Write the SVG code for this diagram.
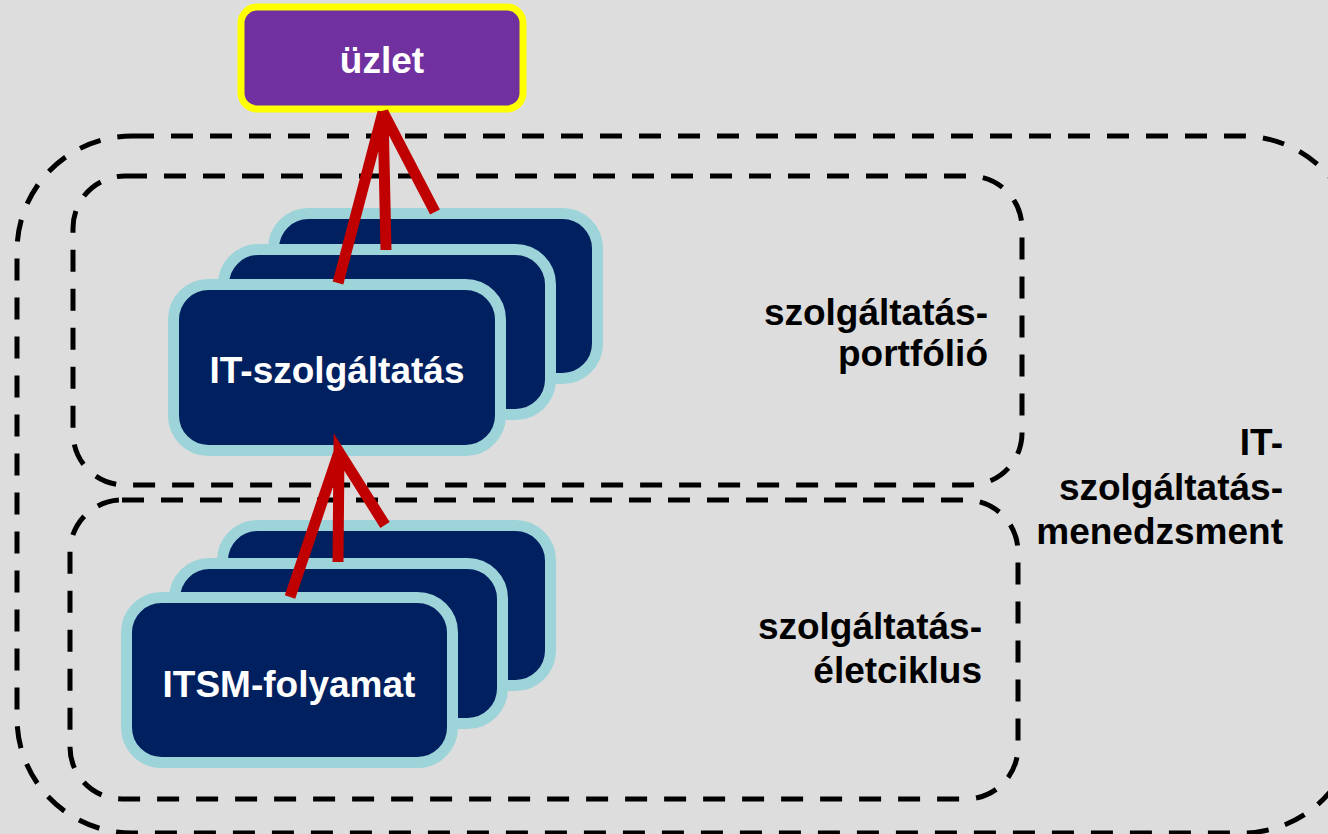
<svg xmlns="http://www.w3.org/2000/svg" width="1328" height="834" viewBox="0 0 1328 834">
<style>
.bg{fill:#DDDDDD}
.dash{fill:none;stroke:#000;stroke-width:5;stroke-dasharray:22 17}
.card{fill:#002060;stroke:#9DD4D9;stroke-width:11}
.ct{font-family:"Liberation Sans",Arial,sans-serif;font-weight:bold;fill:#fff;text-anchor:middle;font-size:37px}
.lbl{font-family:"Liberation Sans",Arial,sans-serif;font-weight:bold;font-size:37px;fill:#000;text-anchor:end}
.arr{stroke:#C00000;stroke-width:11;fill:none}
</style>
<rect class="bg" x="0" y="0" width="1328" height="834"/>
<g id="it-szolgaltatas-menedzsment">
<rect class="dash" x="17" y="136" width="1340" height="697" rx="115"/>
<text class="lbl" x="1283" y="455">IT-</text>
<text class="lbl" x="1283" y="500">szolgáltatás-</text>
<text class="lbl" x="1283" y="544">menedzsment</text>
</g>
<g id="szolgaltatas-portfolio">
<rect class="dash" x="73" y="176" width="949" height="309" rx="52"/>
<text class="lbl" x="988" y="325">szolgáltatás-</text>
<text class="lbl" x="988" y="366">portfólió</text>
</g>
<g id="szolgaltatas-eletciklus">
<rect class="dash" x="70" y="500" width="948" height="299" rx="52"/>
<text class="lbl" x="982" y="639">szolgáltatás-</text>
<text class="lbl" x="982" y="683">életciklus</text>
</g>
<g id="uzlet">
<rect x="241" y="7" width="282" height="102" rx="16" fill="#7030A0" stroke="#FFFF00" stroke-width="7"/>
<text class="ct" x="382" y="73">üzlet</text>
</g>
<g id="it-szolgaltatas">
<rect class="card" x="273.5" y="213.5" width="324" height="165" rx="35"/>
<rect class="card" x="223.5" y="249.5" width="327" height="165" rx="35"/>
<rect class="card" x="173.5" y="284.5" width="327" height="166" rx="35"/>
<text class="ct" x="337" y="383">IT-szolgáltatás</text>
</g>
<g id="itsm-folyamat">
<rect class="card" x="222.5" y="525.5" width="328" height="160" rx="35"/>
<rect class="card" x="174.5" y="563.5" width="328" height="160" rx="35"/>
<rect class="card" x="126.5" y="597.5" width="326" height="165" rx="35"/>
<text class="ct" x="289" y="697">ITSM-folyamat</text>
</g>
<g id="connectors">
<path class="arr" d="M338 283 L383 112 M386 250 L383 112 L435 212"/>
<path class="arr" d="M290 597 L339 452 M338 562 L339 452 L385 525"/>
</g>
</svg>
